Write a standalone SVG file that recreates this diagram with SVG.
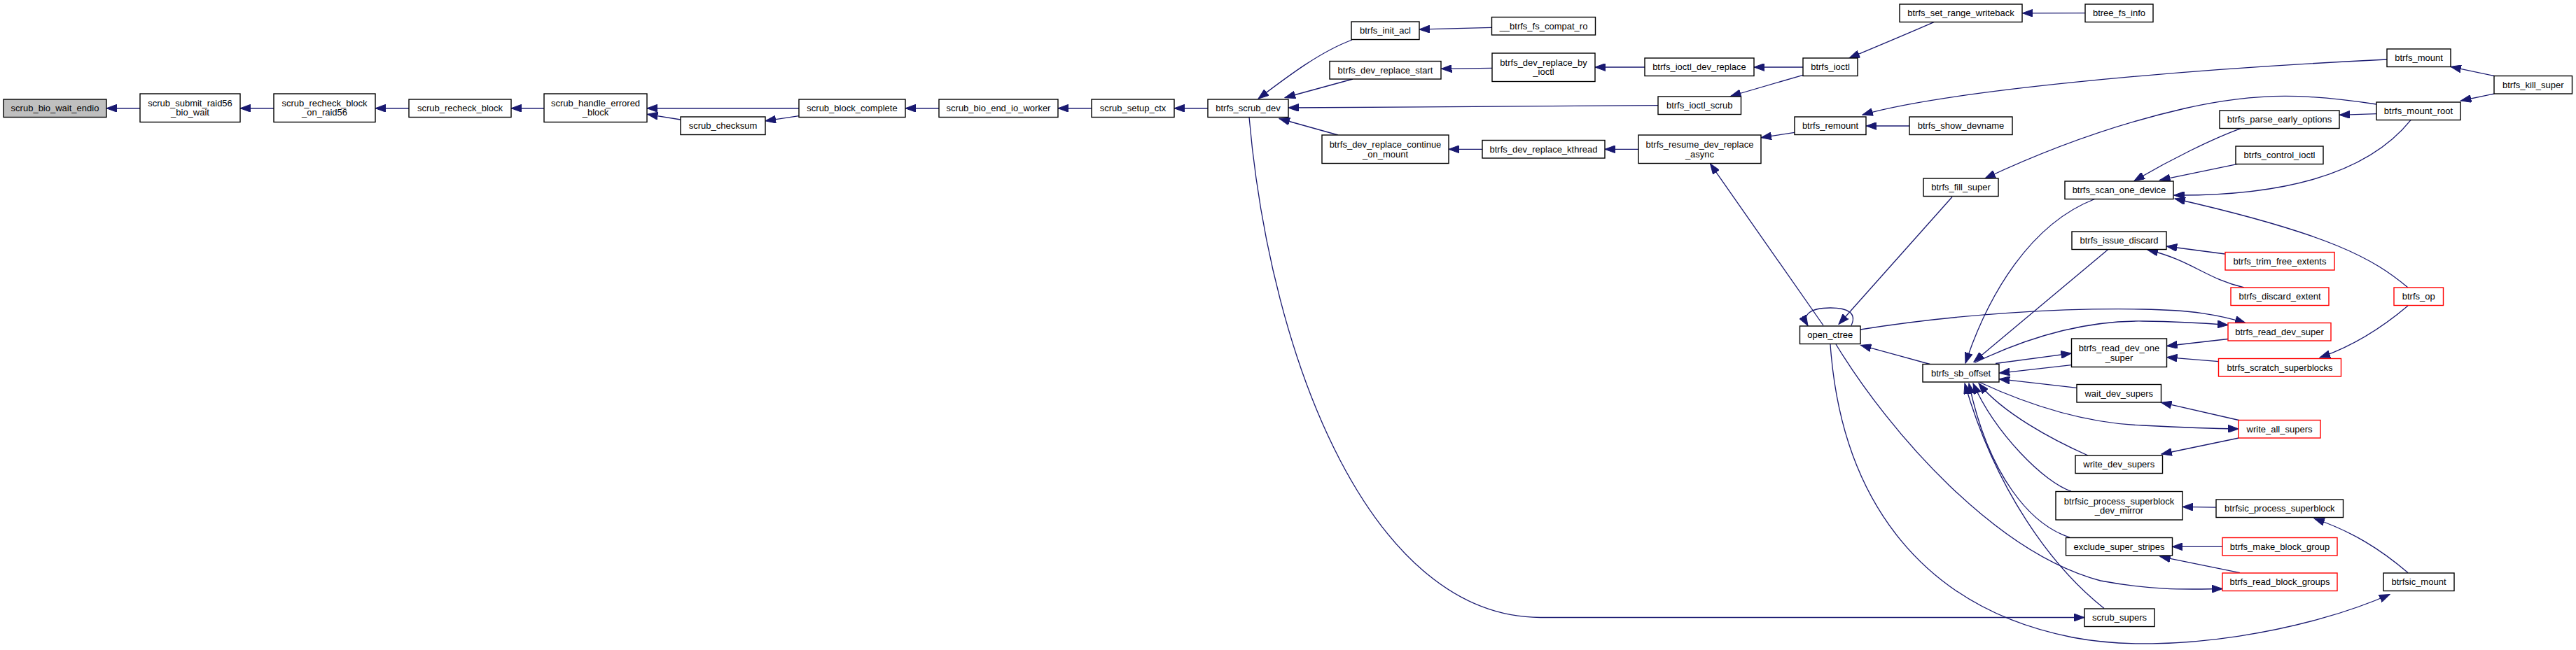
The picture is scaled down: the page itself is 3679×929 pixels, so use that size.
<svg xmlns="http://www.w3.org/2000/svg" width="3679" height="929" viewBox="0 0 3679 929">
<style>
.node rect{fill:#ffffff;stroke:#000000;stroke-width:1.4}
.node.gray rect{fill:#bfbfbf}
.node.red rect{stroke:#ff0000}
.node text{font-family:"Liberation Sans",Arial,sans-serif;font-size:13px;text-anchor:middle;fill:#000000}
.edges path{fill:none;stroke:#191970;stroke-width:1.3;marker-end:url(#ah)}
</style>
<defs>
<marker id="ah" markerUnits="userSpaceOnUse" markerWidth="16" markerHeight="11" viewBox="0 0 16 11" refX="15" refY="5.5" orient="auto">
<path d="M0,0 L15,5.5 L0,11 z" fill="#191970" stroke="#191970" stroke-width="1"/>
</marker>
</defs>
<rect x="0" y="0" width="3679" height="929" fill="#ffffff"/>
<g id="connectors" class="edges">
<path d="M200,154.75 L152,154.75"/>
<path d="M391,154.75 L343,154.75"/>
<path d="M584,154.75 L536,154.75"/>
<path d="M777,154.75 L730,154.75"/>
<path d="M1141,154.75 L924,154.75"/>
<path d="M972,171 L924.5,163.3"/>
<path d="M1141,165.7 L1093,172.8"/>
<path d="M1341,154.75 L1293,154.75"/>
<path d="M1559,154.75 L1511,154.75"/>
<path d="M1725,154.75 L1677,154.75"/>
<path d="M1931,57 C1885,74 1838,110 1797,141"/>
<path d="M1932,113 L1835,139.5"/>
<path d="M2368,150.7 L1840,154"/>
<path d="M1911,193 L1827,169.5"/>
<path d="M1784,167.5 C1815,520 1960,882.5 2200,882.5 L2977,882.5"/>
<path d="M2130.5,39.3 L2027,42"/>
<path d="M2131,97.3 L2058.5,98.3"/>
<path d="M2349,96 L2278,96"/>
<path d="M2575,96 L2505,96"/>
<path d="M2575,107.3 L2471.5,137.5"/>
<path d="M2762,31.7 Q2720,50 2641,83"/>
<path d="M2978,18.6 L2888.5,18.8"/>
<path d="M2117,213.3 L2069,213.3"/>
<path d="M2340,213.3 L2292,213.3"/>
<path d="M2563,189.3 L2515,196.7"/>
<path d="M2727,180 L2665.3,180"/>
<path d="M3409,85 C3100,100 2780,130 2660,164"/>
<path d="M2604,465 L2442.5,234"/>
<path d="M2788,281.5 L2626,463.5"/>
<path d="M2644,465 C2652,448 2640,440 2614,440 C2585,440 2573,450 2582,465.5"/>
<path d="M3394,149 C3300,135 3230,130 3120,155 C3020,178 2920,215 2835,255"/>
<path d="M3201,183.3 C3160,198 3100,228 3048,258.5"/>
<path d="M3196,234.3 L3084.5,257.5"/>
<path d="M3443,171.7 C3380,250 3260,280 3105,279"/>
<path d="M3394.4,162.7 L3341,164.3"/>
<path d="M3562.3,108.5 L3500,95.3"/>
<path d="M3562.3,134 L3514.4,144"/>
<path d="M3439,411 C3390,370 3330,335 3106,284"/>
<path d="M2991.6,284.5 C2900,320 2840,420 2807,519"/>
<path d="M3010.5,356.7 L2819,517"/>
<path d="M3177.7,363 L3094.2,352"/>
<path d="M3205,411 C3150,398 3130,372 3067,357"/>
<path d="M2657,471 C2800,448 2950,440 3060,442 C3130,443 3170,450 3207,461.5"/>
<path d="M2820,518.5 C2900,480 2980,458 3060,459 C3110,459.5 3150,462 3182,464.5"/>
<path d="M2850,519.5 L2958.4,505"/>
<path d="M2958.4,521.7 L2855.2,533.3"/>
<path d="M3182,484.5 L3094.6,494.5"/>
<path d="M3168.5,516.6 L3094.6,510.6"/>
<path d="M3439,437 C3400,470 3360,495 3313,511"/>
<path d="M2966.3,554.3 L2855.2,541.7"/>
<path d="M3197.3,600.5 L3086.5,575.2"/>
<path d="M2827.5,546.5 C2900,580 2980,605 3060,608 C3120,611 3160,612.5 3197,613"/>
<path d="M3197.3,626 L3086.9,649"/>
<path d="M2982,651 C2930,628 2860,590 2826,548"/>
<path d="M2958,702 C2920,690 2850,620 2818,548"/>
<path d="M3164.7,725.2 L3117,724.4"/>
<path d="M3439,818.6 C3400,785 3360,760 3305,741"/>
<path d="M2956,768 C2900,750 2840,680 2812,548"/>
<path d="M3174,781.3 L3102.3,781.3"/>
<path d="M3199,818.6 L3084.8,795.4"/>
<path d="M2622,492 C2700,620 2850,790 3000,830 C3080,845 3130,842 3174,841.5"/>
<path d="M2614,492 C2630,720 2750,870 2960,911 C3100,938 3300,900 3413,849.5"/>
<path d="M3005,869.5 C2930,810 2850,700 2806,548"/>
<path d="M2756.3,520.5 L2657.5,493.3"/>
</g>
<g id="n1" class="node gray"><rect x="5" y="142" width="147" height="25.5"/><text x="78.5" y="159.3">scrub_bio_wait_endio</text></g>
<g id="n2" class="node"><rect x="200" y="134" width="143" height="40.5"/><text x="271.5" y="152">scrub_submit_raid56</text><text x="271.5" y="165.3">_bio_wait</text></g>
<g id="n3" class="node"><rect x="391" y="134" width="145" height="40.5"/><text x="463.5" y="152">scrub_recheck_block</text><text x="463.5" y="165.3">_on_raid56</text></g>
<g id="n4" class="node"><rect x="584" y="142" width="146" height="25.5"/><text x="657" y="159.3">scrub_recheck_block</text></g>
<g id="n5" class="node"><rect x="777" y="134" width="147" height="40.5"/><text x="850.5" y="152">scrub_handle_errored</text><text x="850.5" y="165.3">_block</text></g>
<g id="n6" class="node"><rect x="972" y="167" width="121" height="25.5"/><text x="1032.5" y="184.3">scrub_checksum</text></g>
<g id="n7" class="node"><rect x="1141" y="142" width="152" height="25.5"/><text x="1217" y="159.3">scrub_block_complete</text></g>
<g id="n8" class="node"><rect x="1341" y="142" width="170" height="25.5"/><text x="1426" y="159.3">scrub_bio_end_io_worker</text></g>
<g id="n9" class="node"><rect x="1559" y="142" width="118" height="25.5"/><text x="1618" y="159.3">scrub_setup_ctx</text></g>
<g id="n10" class="node"><rect x="1725" y="142" width="115" height="25.5"/><text x="1782.5" y="159.3">btrfs_scrub_dev</text></g>
<g id="n11" class="node"><rect x="1930" y="31" width="97" height="25.5"/><text x="1978.5" y="48.3">btrfs_init_acl</text></g>
<g id="n12" class="node"><rect x="1899" y="87.5" width="159" height="25.5"/><text x="1978.5" y="104.8">btrfs_dev_replace_start</text></g>
<g id="n13" class="node"><rect x="1888" y="193" width="181" height="40.5"/><text x="1978.5" y="211.2">btrfs_dev_replace_continue</text><text x="1978.5" y="224.5">_on_mount</text></g>
<g id="n14" class="node"><rect x="2130.5" y="24.5" width="148" height="25.5"/><text x="2204.5" y="41.8">__btrfs_fs_compat_ro</text></g>
<g id="n15" class="node"><rect x="2131" y="76" width="147" height="40.5"/><text x="2204.5" y="94">btrfs_dev_replace_by</text><text x="2204.5" y="107.3">_ioctl</text></g>
<g id="n16" class="node"><rect x="2117" y="200.5" width="175" height="25.5"/><text x="2204.5" y="217.8">btrfs_dev_replace_kthread</text></g>
<g id="n17" class="node"><rect x="2349" y="83" width="156" height="25.5"/><text x="2427" y="100.3">btrfs_ioctl_dev_replace</text></g>
<g id="n18" class="node"><rect x="2575" y="83" width="78" height="25.5"/><text x="2614" y="100.3">btrfs_ioctl</text></g>
<g id="n19" class="node"><rect x="2368" y="138" width="118.5" height="25.5"/><text x="2427.25" y="155.3">btrfs_ioctl_scrub</text></g>
<g id="n20" class="node"><rect x="2340" y="193" width="175" height="40.5"/><text x="2427.5" y="211.2">btrfs_resume_dev_replace</text><text x="2427.5" y="224.5">_async</text></g>
<g id="n21" class="node"><rect x="2563" y="167" width="102" height="25.5"/><text x="2614" y="184.3">btrfs_remount</text></g>
<g id="n22" class="node"><rect x="2727" y="167" width="147" height="25.5"/><text x="2800.5" y="184.3">btrfs_show_devname</text></g>
<g id="n23" class="node"><rect x="2713" y="6" width="175" height="25.5"/><text x="2800.5" y="23.3">btrfs_set_range_writeback</text></g>
<g id="n24" class="node"><rect x="2978" y="6" width="97" height="25.5"/><text x="3026.5" y="23.3">btree_fs_info</text></g>
<g id="n25" class="node"><rect x="3409" y="70" width="91" height="25.5"/><text x="3454.5" y="87.3">btrfs_mount</text></g>
<g id="n26" class="node"><rect x="3562" y="108.5" width="111.5" height="25.5"/><text x="3617.75" y="125.8">btrfs_kill_super</text></g>
<g id="n27" class="node"><rect x="3394" y="146" width="120" height="25.5"/><text x="3454" y="163.3">btrfs_mount_root</text></g>
<g id="n28" class="node"><rect x="3170" y="158" width="171" height="25.5"/><text x="3255.5" y="175.3">btrfs_parse_early_options</text></g>
<g id="n29" class="node"><rect x="3193" y="209" width="125" height="25.5"/><text x="3255.5" y="226.3">btrfs_control_ioctl</text></g>
<g id="n30" class="node"><rect x="2949" y="259" width="155" height="25.5"/><text x="3026.5" y="276.3">btrfs_scan_one_device</text></g>
<g id="n31" class="node"><rect x="2747" y="255" width="107" height="25.5"/><text x="2800.5" y="272.3">btrfs_fill_super</text></g>
<g id="n32" class="node"><rect x="2959" y="331" width="135" height="25.5"/><text x="3026.5" y="348.3">btrfs_issue_discard</text></g>
<g id="n33" class="node red"><rect x="3178" y="360.5" width="156" height="25.5"/><text x="3256" y="377.8">btrfs_trim_free_extents</text></g>
<g id="n34" class="node red"><rect x="3186" y="411" width="140" height="25.5"/><text x="3256" y="428.3">btrfs_discard_extent</text></g>
<g id="n35" class="node red"><rect x="3419" y="411" width="70.5" height="25.5"/><text x="3454.25" y="428.3">btrfs_op</text></g>
<g id="n36" class="node"><rect x="2570.5" y="466" width="86.5" height="25.5"/><text x="2613.75" y="483.3">open_ctree</text></g>
<g id="n37" class="node red"><rect x="3182" y="461.5" width="147" height="25.5"/><text x="3255.5" y="478.8">btrfs_read_dev_super</text></g>
<g id="n38" class="node"><rect x="2958.5" y="484" width="136" height="40.5"/><text x="3026.5" y="502.2">btrfs_read_dev_one</text><text x="3026.5" y="515.5">_super</text></g>
<g id="n39" class="node"><rect x="2746" y="520.5" width="109" height="25.5"/><text x="2800.5" y="537.8">btrfs_sb_offset</text></g>
<g id="n40" class="node red"><rect x="3168.5" y="512.5" width="175" height="25.5"/><text x="3256" y="529.8">btrfs_scratch_superblocks</text></g>
<g id="n41" class="node"><rect x="2966" y="549.5" width="120.5" height="25.5"/><text x="3026.25" y="566.8">wait_dev_supers</text></g>
<g id="n42" class="node red"><rect x="3197" y="600.5" width="117" height="25.5"/><text x="3255.5" y="617.8">write_all_supers</text></g>
<g id="n43" class="node"><rect x="2964" y="651" width="124.5" height="25.5"/><text x="3026.25" y="668.3">write_dev_supers</text></g>
<g id="n44" class="node"><rect x="2936" y="702.5" width="181" height="40.5"/><text x="3026.5" y="720.7">btrfsic_process_superblock</text><text x="3026.5" y="734">_dev_mirror</text></g>
<g id="n45" class="node"><rect x="3165" y="714" width="181.5" height="25.5"/><text x="3255.75" y="731.3">btrfsic_process_superblock</text></g>
<g id="n46" class="node"><rect x="2950.5" y="768.5" width="152" height="25.5"/><text x="3026.5" y="785.8">exclude_super_stripes</text></g>
<g id="n47" class="node red"><rect x="3174" y="768.5" width="164" height="25.5"/><text x="3256" y="785.8">btrfs_make_block_group</text></g>
<g id="n48" class="node red"><rect x="3174" y="819" width="164" height="25.5"/><text x="3256" y="836.3">btrfs_read_block_groups</text></g>
<g id="n49" class="node"><rect x="3404" y="819" width="101" height="25.5"/><text x="3454.5" y="836.3">btrfsic_mount</text></g>
<g id="n50" class="node"><rect x="2977" y="870" width="100" height="25.5"/><text x="3027" y="887.3">scrub_supers</text></g>
</svg>
